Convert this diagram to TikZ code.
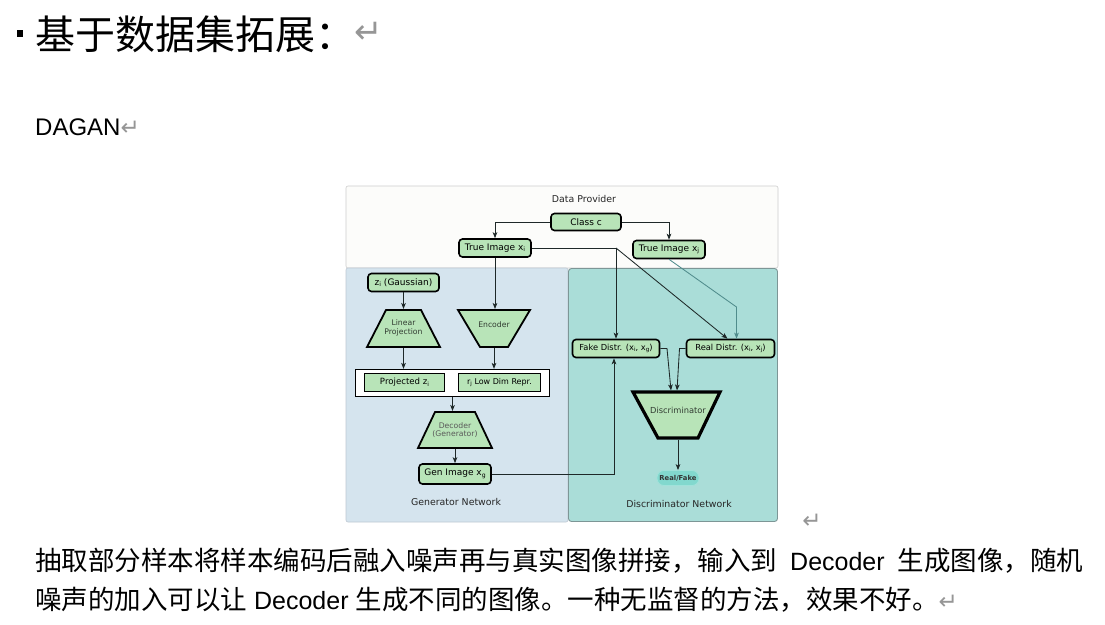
\documentclass[tikz,border=0pt]{standalone}
\usepackage{fontspec}
\usepackage{graphicx}
\setmainfont{Liberation Sans}
\newfontfamily\cjk{Noto Sans CJK SC}
\newfontfamily\dvs{DejaVu Sans}
\usetikzlibrary{arrows.meta,calc}
\definecolor{gfill}{RGB}{184,228,184}
\definecolor{genfill}{RGB}{213,228,238}
\definecolor{genborder}{RGB}{190,200,210}
\definecolor{discfill}{RGB}{170,221,216}
\definecolor{discborder}{RGB}{125,150,150}
\definecolor{dpfill}{RGB}{252,252,250}
\definecolor{dpborder}{RGB}{205,205,205}
\definecolor{rffill}{RGB}{130,216,206}
\definecolor{rfborder}{RGB}{160,226,218}
\definecolor{lcol}{RGB}{30,40,40}
\definecolor{tealline}{RGB}{80,140,140}
\definecolor{retgray}{RGB}{150,150,150}
\definecolor{lbltext}{RGB}{50,60,50}
\newcommand\sbs[1]{\raisebox{-0.3ex}{\scalebox{0.68}{#1}}}
\newcommand\cj{\cjk\fontsize{26.5pt}{30pt}\selectfont}
\newcommand\retmark{{\dvs\fontsize{23pt}{24pt}\selectfont\color{retgray}↵}}
\tikzset{
  rbox/.style={draw=black, line width=1.6pt, rounded corners=3.5pt, fill=gfill, inner sep=0pt, font=\dvs\fontsize{9}{10}\selectfont},
  sbox/.style={draw=black, line width=0.9pt, fill=gfill, inner sep=0pt, font=\dvs\fontsize{8.6}{10}\selectfont},
  trap/.style={draw=black, line width=1.8pt, fill=gfill, line join=miter},
  conn/.style={draw=lcol, line width=0.85pt, -{Stealth[length=6pt,width=4.6pt,inset=1.5pt]}},
  plain/.style={draw=lcol, line width=0.85pt},
  lbl/.style={font=\dvs\fontsize{7.7}{8.8}\selectfont, align=center, text=lbltext, inner sep=0pt},
  ttl/.style={font=\dvs\fontsize{9.4}{11}\selectfont, inner sep=0pt, text=black!85},
  doc/.style={anchor=base west, inner sep=0pt},
}
\begin{document}
\begin{tikzpicture}[x=1pt,y=-1pt]
\useasboundingbox[fill=white] (0,0) rectangle (1105,624);

% ---------- document text ----------
\fill[black] (16.5,30) rectangle (23,37);
\node[doc, font=\cjk\fontsize{40pt}{44pt}\selectfont] (head) at (35,49) {基于数据集拓展：};
\node[inner sep=0pt, font=\dvs\fontsize{34pt}{36pt}\selectfont, text=retgray] (ret1) at (369,33) {↵};
\node[doc, font=\fontsize{24pt}{28pt}\selectfont] (dagan) at (35,135) {DAGAN\retmark};
\node[doc, font=\fontsize{25pt}{30pt}\selectfont] (line1) at (35,570)
  {\makebox[1048pt][s]{{\cj 抽取部分样本将样本编码后融入噪声再与真实图像拼接，输入到} Decoder {\cj 生成图像，随机}}};
\node[doc, font=\fontsize{25pt}{30pt}\selectfont] (line2) at (35,609)
  {{\cj 噪声的加入可以让} Decoder {\cj 生成不同的图像。一种无监督的方法，效果不好。}\retmark};
\node[inner sep=0pt] (ret3) at (812,521) {\retmark};

% ---------- panels ----------
\draw[draw=dpborder, fill=dpfill, line width=0.6pt, rounded corners=2pt] (346,186) rectangle (778,268);
\draw[draw=genborder, fill=genfill, line width=0.6pt, rounded corners=2pt] (346,268) rectangle (568,522);
\draw[draw=discborder, fill=discfill, line width=0.9pt, rounded corners=3pt] (568.5,268.5) rectangle (777.5,521.5);

% ---------- data provider ----------
\node[ttl] (dplabel) at (584,199) {Data Provider};
\node[rbox, minimum width=70pt, minimum height=17pt] (classc) at (586,222) {Class c};
\node[rbox, minimum width=72pt, minimum height=18pt] (tix) at (495,248) {True Image x\sbs{i}};
\node[rbox, minimum width=72pt, minimum height=18pt] (tjx) at (669,249.5) {True Image x\sbs{j}};

% ---------- generator ----------
\node[rbox, minimum width=71pt, minimum height=18pt] (zg) at (403.5,282.5) {z\sbs{i} (Gaussian)};
\draw[trap] (386,310) -- (421,310) -- (440,347) -- (367,347) -- cycle;
\node[lbl] (lplabel) at (403.5,328) {Linear\\Projection};
\coordinate (lptop) at (403.5,309);
\coordinate (lpbot) at (403.5,348);
\draw[trap] (458,310) -- (530,310) -- (508,347) -- (480,347) -- cycle;
\node[lbl] (enclabel) at (494,325) {Encoder};
\coordinate (enctop) at (495,309);
\coordinate (encbot) at (494,348);

\node[draw=black, line width=1.2pt, fill=white, minimum width=194pt, minimum height=27pt, inner sep=0pt] (concat) at (452.5,383) {};
\node[sbox, minimum width=80pt, minimum height=18pt] (projz) at (404.5,382.5) {Projected z\sbs{i}};
\node[sbox, minimum width=82pt, minimum height=18pt, font=\dvs\fontsize{8}{9}\selectfont] (rj) at (499.5,382.5) {r\sbs{j} Low Dim Repr.};

\draw[trap] (435,412) -- (475,412) -- (492,448) -- (418,448) -- cycle;
\node[lbl, text=black!65] (declabel) at (455,430) {Decoder\\(Generator)};
\coordinate (dectop) at (455,411);
\coordinate (decbot) at (455,449);
\node[rbox, minimum width=72pt, minimum height=20pt] (gen) at (455,474) {Gen Image x\sbs{g}};
\node[ttl] (gennet) at (456,502) {Generator Network};

% ---------- discriminator ----------
\node[rbox, minimum width=87pt, minimum height=18pt, font=\dvs\fontsize{8.3}{9}\selectfont] (fake) at (616,348.5) {Fake Distr. (x\sbs{i}, x\sbs{g})};
\node[rbox, minimum width=88pt, minimum height=18pt, font=\dvs\fontsize{8.3}{9}\selectfont] (real) at (730.5,348.5) {Real Distr. (x\sbs{i}, x\sbs{j})};
\draw[trap, line width=3.2pt] (633,392) -- (720,392) -- (698,438) -- (658,438) -- cycle;
\node[lbl, font=\dvs\fontsize{8.3}{9}\selectfont] (disclabel) at (678,410) {Discriminator};
\coordinate (dinA) at (671,390.5);
\coordinate (dinB) at (677,390.5);
\coordinate (discbot) at (678,439.5);
\node[fill=rffill, draw=rfborder, line width=0.8pt, rounded corners=7pt, minimum width=42pt, minimum height=15pt, inner sep=0pt, font=\dvs\bfseries\fontsize{6.8}{8}\selectfont, text=black!80] (rf) at (678,478) {Real/Fake};
\node[ttl] (discnet) at (679,504) {Discriminator Network};

% ---------- connectors ----------
\draw[conn] (classc.west) -| (tix.north);
\draw[conn] (classc.east) -| (tjx.north);
\draw[conn] (tix.south) -- (tix.south |- enctop);
\coordinate (split) at (tix.east -| fake.north);
\draw[plain] (tix.east) -- (split);
\draw[conn] (split) -- (fake.north);
\draw[conn] (split) -- ([xshift=-3pt]real.north);
\coordinate (tjbend) at (736.5,307);
\draw[conn, draw=tealline, -{Stealth[length=6pt,width=4.6pt,inset=1.5pt,fill=tealline]}] (tjx.south) -- (tjbend) -- (tjbend |- real.north);
\draw[conn] (zg.south) -- (lptop);
\draw[conn] (lpbot) -- (lpbot |- concat.north);
\draw[conn] (encbot) -- (encbot |- concat.north);
\draw[conn] (concat.south) -- (concat.south |- dectop);
\draw[conn] (decbot) -- (gen.north);
\draw[conn] (gen.east) -| ([xshift=-2pt]fake.south);
\coordinate (fk) at (667,348.5);
\coordinate (rl) at (679.5,348.5);
\draw[conn] (fake.east) -- (fk) -- (dinA);
\draw[conn] (real.west) -- (rl) -- (dinB);
\draw[conn] (discbot) -- (rf.north);
\end{tikzpicture}
\end{document}
